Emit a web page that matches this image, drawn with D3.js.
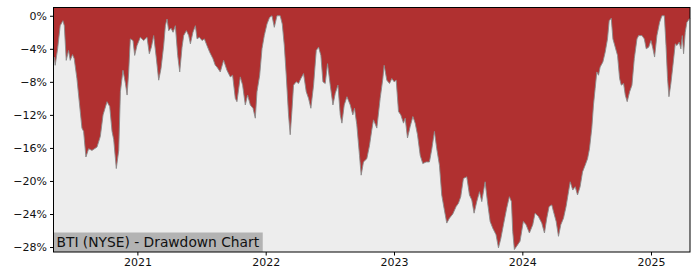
<!DOCTYPE html>
<html>
<head>
<meta charset="utf-8">
<script src="https://cdn.jsdelivr.net/npm/d3@7"></script>
<style>
  body { margin: 0; background: #fff; }
  svg text { font-family: "DejaVu Sans", sans-serif; }
</style>
</head>
<body>
<div id="chart"></div>
<script>
// drawdown series (decimal year, drawdown in %)
var years = [2020.348, 2020.354, 2020.361, 2020.380, 2020.400, 2020.421, 2020.432, 2020.447, 2020.465, 2020.478,
    2020.496, 2020.509, 2020.530, 2020.556, 2020.569, 2020.582, 2020.600, 2020.621, 2020.647, 2020.686,
    2020.712, 2020.733, 2020.764, 2020.785, 2020.803, 2020.816, 2020.836, 2020.855, 2020.868, 2020.888,
    2020.907, 2020.920, 2020.932, 2020.945, 2020.966, 2020.979, 2020.997, 2021.023, 2021.049, 2021.075,
    2021.093, 2021.109, 2021.127, 2021.148, 2021.166, 2021.184, 2021.205, 2021.218, 2021.231, 2021.244,
    2021.262, 2021.278, 2021.296, 2021.314, 2021.330, 2021.348, 2021.361, 2021.382, 2021.400, 2021.413,
    2021.433, 2021.452, 2021.465, 2021.483, 2021.504, 2021.522, 2021.542, 2021.563, 2021.589, 2021.607,
    2021.620, 2021.646, 2021.672, 2021.698, 2021.724, 2021.742, 2021.763, 2021.776, 2021.802, 2021.820,
    2021.841, 2021.859, 2021.880, 2021.901, 2021.919, 2021.932, 2021.953, 2021.971, 2021.989, 2022.010,
    2022.030, 2022.049, 2022.067, 2022.088, 2022.113, 2022.129, 2022.145, 2022.160, 2022.178, 2022.191,
    2022.204, 2022.217, 2022.238, 2022.256, 2022.274, 2022.295, 2022.316, 2022.334, 2022.352, 2022.373,
    2022.394, 2022.412, 2022.430, 2022.446, 2022.464, 2022.482, 2022.503, 2022.524, 2022.542, 2022.563,
    2022.581, 2022.594, 2022.612, 2022.633, 2022.659, 2022.679, 2022.692, 2022.710, 2022.731, 2022.744,
    2022.762, 2022.788, 2022.809, 2022.827, 2022.840, 2022.866, 2022.892, 2022.913, 2022.923, 2022.944,
    2022.965, 2022.983, 2023.001, 2023.017, 2023.035, 2023.053, 2023.074, 2023.087, 2023.105, 2023.126,
    2023.147, 2023.165, 2023.183, 2023.204, 2023.224, 2023.250, 2023.276, 2023.295, 2023.315, 2023.333,
    2023.354, 2023.372, 2023.390, 2023.411, 2023.432, 2023.458, 2023.484, 2023.502, 2023.520, 2023.541,
    2023.567, 2023.588, 2023.606, 2023.624, 2023.645, 2023.666, 2023.684, 2023.710, 2023.728, 2023.749,
    2023.769, 2023.795, 2023.814, 2023.832, 2023.853, 2023.878, 2023.899, 2023.915, 2023.925, 2023.938,
    2023.956, 2023.982, 2024.008, 2024.029, 2024.055, 2024.081, 2024.099, 2024.125, 2024.151, 2024.172,
    2024.190, 2024.208, 2024.229, 2024.242, 2024.263, 2024.281, 2024.299, 2024.320, 2024.340, 2024.359,
    2024.372, 2024.392, 2024.411, 2024.429, 2024.449, 2024.468, 2024.488, 2024.507, 2024.522, 2024.540,
    2024.553, 2024.566, 2024.579, 2024.592, 2024.605, 2024.626, 2024.644, 2024.662, 2024.675, 2024.691,
    2024.704, 2024.722, 2024.740, 2024.756, 2024.769, 2024.787, 2024.800, 2024.815, 2024.834, 2024.852,
    2024.870, 2024.891, 2024.904, 2024.930, 2024.948, 2024.963, 2024.982, 2025.000, 2025.015, 2025.028,
    2025.046, 2025.067, 2025.085, 2025.104, 2025.117, 2025.129, 2025.140, 2025.155, 2025.171, 2025.189,
    2025.202, 2025.220, 2025.233, 2025.244, 2025.254, 2025.267, 2025.280, 2025.298, 2025.304];

var drawdown = [-5.2, -5.0, -6.0, -4.0, -1.2, -0.6, -1.2, -5.4, -4.2, -5.4,
    -4.7, -5.2, -7.6, -11.6, -13.6, -14.0, -17.1, -16.1, -16.3, -15.9,
    -14.6, -12.0, -10.4, -11.0, -14.0, -15.0, -18.5, -16.3, -9.2, -6.6,
    -8.2, -9.6, -6.9, -2.8, -3.0, -4.8, -3.6, -2.6, -3.0, -2.6,
    -4.6, -3.8, -2.4, -5.2, -7.8, -6.4, -3.6, -1.2, -0.4, -1.8,
    -1.5, -2.0, -1.2, -4.8, -6.8, -3.8, -2.4, -1.8, -2.4, -3.4,
    -2.0, -1.2, -2.8, -2.6, -3.0, -2.8, -3.6, -4.4, -5.2, -6.0,
    -6.2, -6.8, -5.4, -6.6, -7.4, -7.2, -10.0, -10.4, -7.4, -8.4,
    -10.8, -9.6, -10.8, -11.2, -12.4, -9.2, -7.2, -4.0, -2.4, -1.0,
    -0.2, 0, -1.4, 0, 0, -1.0, -3.6, -7.2, -12.0, -14.4,
    -11.6, -8.4, -8.0, -8.2, -7.6, -7.0, -9.2, -10.0, -11.2, -8.4,
    -4.2, -3.8, -4.8, -8.0, -8.2, -5.8, -8.4, -10.8, -9.4, -8.4,
    -12.0, -13.0, -10.8, -9.8, -10.8, -12.0, -11.2, -13.2, -16.9, -19.3,
    -17.7, -17.3, -15.7, -13.8, -12.6, -13.6, -10.0, -7.6, -6.0, -7.8,
    -8.2, -7.6, -8.0, -7.8, -11.6, -12.0, -13.0, -12.4, -14.8, -13.4,
    -12.2, -13.0, -14.4, -16.9, -17.9, -17.7, -17.7, -16.1, -14.0, -16.1,
    -18.1, -21.7, -23.3, -25.1, -24.5, -24.0, -23.1, -22.7, -21.9, -19.7,
    -19.5, -21.7, -22.3, -23.9, -22.5, -21.3, -22.5, -20.1, -22.5, -24.9,
    -25.7, -26.5, -28.1, -27.0, -25.3, -23.3, -21.9, -22.5, -26.1, -28.3,
    -27.9, -27.3, -24.9, -25.3, -26.3, -25.3, -23.9, -24.3, -25.1, -26.3,
    -24.5, -23.1, -22.9, -23.7, -24.9, -26.7, -25.3, -24.5, -23.1, -21.3,
    -20.1, -21.1, -20.7, -21.7, -20.7, -18.9, -18.1, -17.3, -16.1, -13.6,
    -10.8, -8.8, -6.8, -7.2, -6.2, -5.6, -4.4, -2.8, -0.6, -0.3,
    -2.8, -3.8, -4.8, -7.6, -8.4, -8.2, -9.6, -10.4, -9.2, -8.4,
    -5.2, -2.8, -2.4, -2.4, -2.8, -4.0, -3.8, -3.0, -4.0, -5.0,
    -2.4, -0.8, 0, 0, -3.6, -7.6, -9.8, -8.2, -6.0, -3.4,
    -3.6, -3.2, -4.0, -2.4, -4.6, -2.0, -0.8, -0.4, -0.3];

var yTicks = [0, -4, -8, -12, -16, -20, -24, -28];
var xTickYears = [2021, 2022, 2023, 2024, 2025];
var yDomain = [-28.6, 1.0];
var chartTitle = "BTI (NYSE) - Drawdown Chart";

// decimal year -> Date
function yearToDate(y) {
    var yr = Math.floor(y);
    var start = new Date(yr, 0, 1), end = new Date(yr + 1, 0, 1);
    return new Date(start.getTime() + (y - yr) * (end - start));
}

var data = years.map(function (y, i) {
    return {date: yearToDate(y), value: drawdown[i]};
});

var w = 700, h = 280;
var margin = {top: 7.5, right: 10, bottom: 28, left: 53.5};

var svg = d3.select("#chart").append("svg")
    .attr("width", w)
    .attr("height", h);

var x = d3.scaleTime()
    .domain([data[0].date, data[data.length - 1].date])
    .range([margin.left, w - margin.right]);

var y = d3.scaleLinear()
    .domain(yDomain)
    .range([h - margin.bottom, margin.top]);

//plot background
svg.append("rect")
    .attr("x", margin.left)
    .attr("y", margin.top)
    .attr("width", w - margin.left - margin.right)
    .attr("height", h - margin.top - margin.bottom)
    .style("fill", "#ededed");

//red fill from the top of the plot down to the drawdown curve
var area = d3.area()
    .x(function (d) { return x(d.date); })
    .y0(margin.top)
    .y1(function (d) { return y(d.value); });

svg.append("path")
    .datum(data)
    .attr("d", area)
    .style("fill", "#b03030");

var line = d3.line()
    .x(function (d) { return x(d.date); })
    .y(function (d) { return y(d.value); });

svg.append("path")
    .datum(data)
    .attr("d", line)
    .style("fill", "none")
    .style("stroke", "#8a8a8a")
    .style("stroke-width", 0.9);

//title box in the lower left
var label = svg.append("g");
var labelText = label.append("text")
    .attr("x", margin.left + 3)
    .attr("y", h - margin.bottom - 5.5)
    .style("font-size", "13.8px")
    .style("fill", "#111")
    .text(chartTitle);
var bb = labelText.node().getBBox();
label.insert("rect", "text")
    .attr("x", margin.left)
    .attr("y", h - margin.bottom - 19.5)
    .attr("width", bb.width + 6)
    .attr("height", 19.5)
    .style("fill", "#b3b3b3");

//axes
var xAxis = d3.axisBottom(x)
    .tickValues(xTickYears.map(function (d) { return new Date(d, 0, 1); }))
    .tickFormat(d3.timeFormat("%Y"))
    .tickSize(3.5)
    .tickPadding(3);

var yAxis = d3.axisLeft(y)
    .tickValues(yTicks)
    .tickFormat(function (d) { return (d < 0 ? "\u2212" + (-d) : d) + "%"; })
    .tickSize(3.5)
    .tickPadding(3);

svg.append("g")
    .attr("transform", "translate(0," + (h - margin.bottom) + ")")
    .call(xAxis)
    .call(function (g) { g.select(".domain").remove(); })
    .selectAll("text")
    .style("font-size", "11px")
    .style("fill", "#111");

svg.append("g")
    .attr("transform", "translate(" + margin.left + ",0)")
    .call(yAxis)
    .call(function (g) { g.select(".domain").remove(); })
    .selectAll("text")
    .style("font-size", "11px")
    .style("fill", "#111");

//frame
svg.append("rect")
    .attr("x", margin.left)
    .attr("y", margin.top)
    .attr("width", w - margin.left - margin.right)
    .attr("height", h - margin.top - margin.bottom)
    .style("fill", "none")
    .style("stroke", "#000")
    .style("stroke-width", 1);
</script>
</body>
</html>
